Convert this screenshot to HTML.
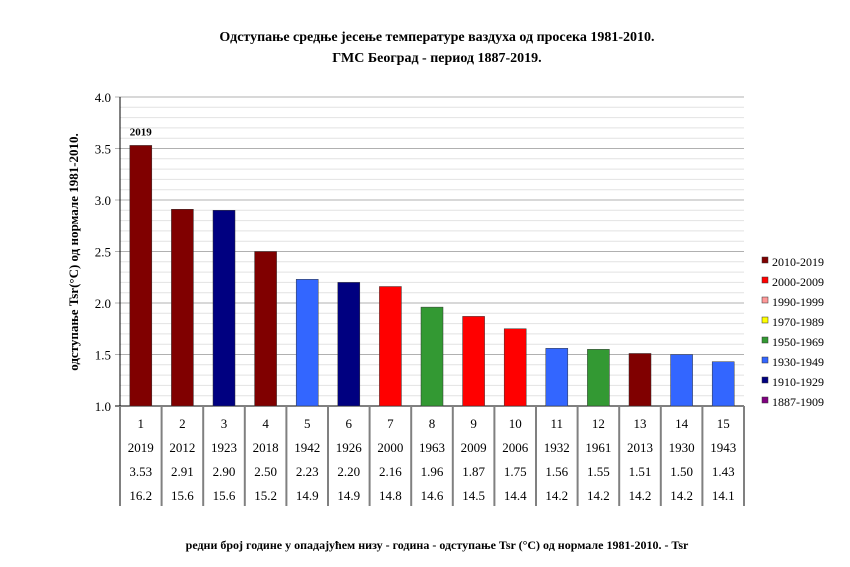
<!DOCTYPE html>
<html><head><meta charset="utf-8"><style>
body{margin:0;background:#fff;}
svg text{font-family:"Liberation Serif",serif;}
</style></head><body>
<svg id="chart" width="850" height="562" xmlns="http://www.w3.org/2000/svg">
<text x="437" y="41" text-anchor="middle" font-size="14" font-weight="bold">Одступање средње јесење температуре ваздуха од просека 1981-2010.</text>
<text x="437" y="62" text-anchor="middle" font-size="14" font-weight="bold">ГМС Београд - период 1887-2019.</text>
<text transform="translate(78,252) rotate(-90)" text-anchor="middle" font-size="13" font-weight="bold">одступање Tsr(°C) од нормале 1981-2010.</text>
<text x="437" y="549" text-anchor="middle" font-size="12" font-weight="bold">редни број  године у опадајућем низу  - година - одступање Tsr (°C) од нормале 1981-2010. - Tsr</text>
<g id="grid"></g><g id="bars"></g><g id="table"></g><g id="legend"></g>
</svg>
<script>
const ranks=[1,2,3,4,5,6,7,8,9,10,11,12,13,14,15];
const years=[2019,2012,1923,2018,1942,1926,2000,1963,2009,2006,1932,1961,2013,1930,1943];
const values=[3.53,2.91,2.90,2.50,2.23,2.20,2.16,1.96,1.87,1.75,1.56,1.55,1.51,1.50,1.43];
const tsr=["16.2","15.6","15.6","15.2","14.9","14.9","14.8","14.6","14.5","14.4","14.2","14.2","14.2","14.2","14.1"];
const decadeLabels=["2010-2019","2000-2009","1990-1999","1970-1989","1950-1969","1930-1949","1910-1929","1887-1909"];
const decadeColors=["#800000","#ff0000","#ff9999","#ffff00","#339933","#3366ff","#000080","#800080"];
const yTicks=[1.0,1.5,2.0,2.5,3.0,3.5,4.0];
const NS="http://www.w3.org/2000/svg";
const X0=120,X1=744,Y0=406,Y1=97,VMIN=1,VMAX=4;
const colW=(X1-X0)/values.length;
function y(v){return Y0-(v-VMIN)/(VMAX-VMIN)*(Y0-Y1);}
function xc(i){return X0+colW*(i+0.5);}
function mk(tag,attrs,parent,txt){const e=document.createElementNS(NS,tag);for(const k in attrs)e.setAttribute(k,attrs[k]);if(txt!==undefined)e.textContent=txt;parent.appendChild(e);return e;}
function colorFor(yr){if(yr>=2010)return decadeColors[0];if(yr>=2000)return decadeColors[1];if(yr>=1990)return decadeColors[2];if(yr>=1970)return decadeColors[3];if(yr>=1950)return decadeColors[4];if(yr>=1930)return decadeColors[5];if(yr>=1910)return decadeColors[6];return decadeColors[7];}
const grid=document.getElementById('grid');
for(let k=1;k<30;k++){const v=VMIN+k*0.1;if(k%5===0)continue;
 const l=mk('line',{x1:X0,x2:X1,y1:y(v),y2:y(v),stroke:'#e2e2e2','stroke-width':1},grid);
 }
yTicks.forEach(t=>{
 const l=mk('line',{x1:X0-5,x2:X1,y1:y(t),y2:y(t),stroke:t===VMIN?'#000':'#b0b0b0','stroke-width':1},grid);
 
 const tx=mk('text',{x:X0-9,y:y(t)+5,'text-anchor':'end','font-size':13},grid,t.toFixed(1));
 
});
const ax=mk('line',{x1:X0,x2:X0,y1:Y1,y2:Y0,stroke:'#000'},grid);

const bars=document.getElementById('bars');
values.forEach((v,i)=>{
 const r=mk('rect',{x:xc(i)-11,y:y(v),width:22,height:Y0-y(v),fill:colorFor(years[i]),stroke:'#333','stroke-width':0.5},bars);
 
});
const lab=mk('text',{x:xc(0),y:y(values[0])-10,'text-anchor':'middle','font-size':11,'font-weight':'bold'},bars,String(years[0]));

const tb=document.getElementById('table');
for(let i=0;i<=values.length;i++){
 const l=mk('line',{x1:X0+colW*i,x2:X0+colW*i,y1:Y0,y2:506,stroke:'#808080','stroke-width':2},tb);
 }
const rows=[ranks.map(String),years.map(String),values.map(v=>v.toFixed(2)),tsr];
const rowY=[428,452,476,500];
rows.forEach((row,ri)=>row.forEach((s,i)=>{
 const t=mk('text',{x:xc(i),y:rowY[ri],'text-anchor':'middle','font-size':13},tb,s);
 
}));
const lg=document.getElementById('legend');
decadeLabels.forEach((s,i)=>{
 const yy=262+i*20;
 const r=mk('rect',{x:762,y:yy-5,width:6,height:6,fill:decadeColors[i],stroke:'#333','stroke-width':0.5},lg);
 
 const t=mk('text',{x:772,y:yy+4,'font-size':12},lg,s);
 
});
</script>
</body></html>
